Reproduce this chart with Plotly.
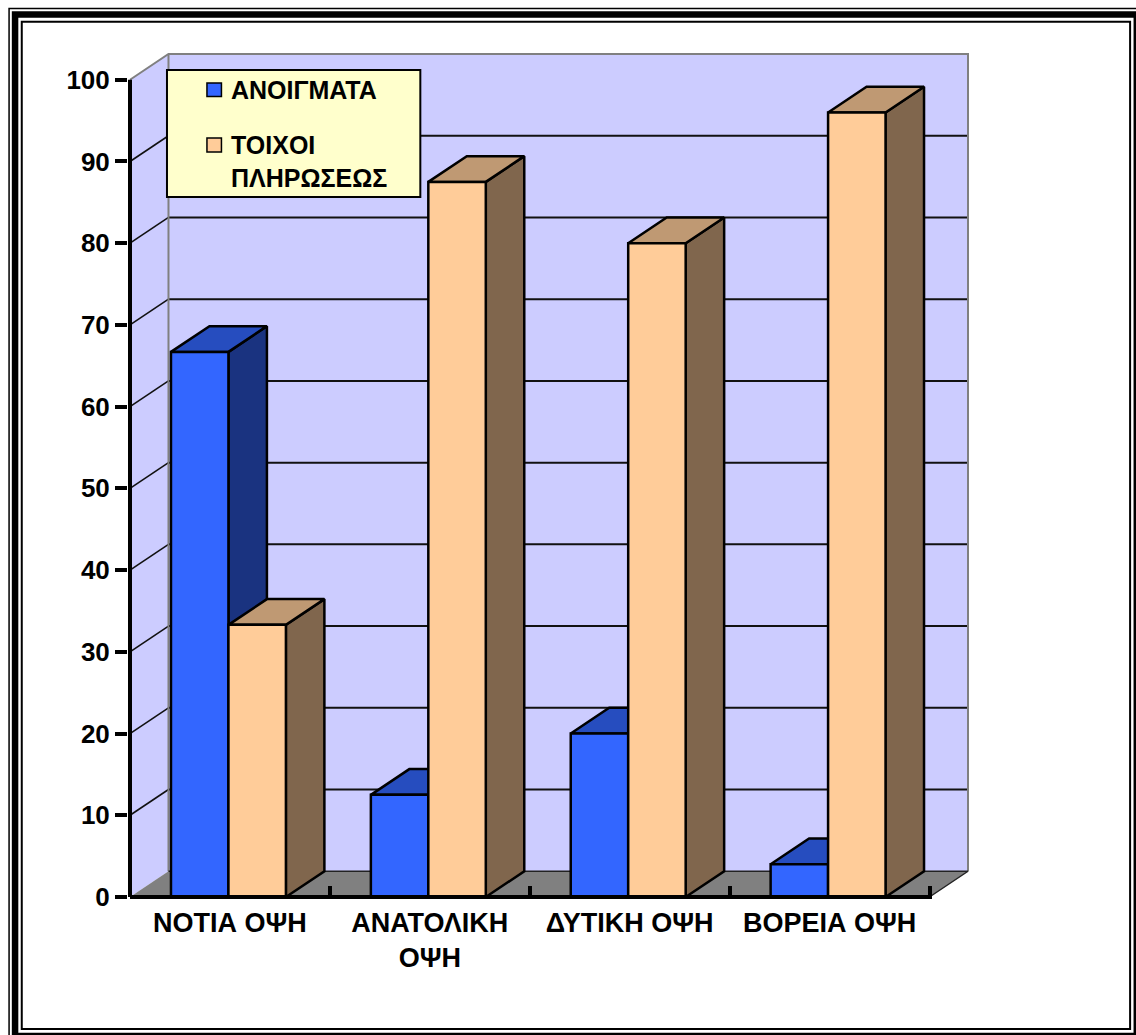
import plotly.graph_objects as go

# ---- data -------------------------------------------------------------
categories = ["ΝΟΤΙΑ ΟΨΗ", "ΑΝΑΤΟΛΙΚΗ<br>ΟΨΗ", "ΔΥΤΙΚΗ ΟΨΗ", "ΒΟΡΕΙΑ ΟΨΗ"]
series_names = ["ΑΝΟΙΓΜΑΤΑ", "ΤΟΙΧΟΙ<br>ΠΛΗΡΩΣΕΩΣ"]
openings = [66.7, 12.5, 20.0, 4.0]
infill_walls = [33.3, 87.5, 80.0, 96.0]
y_ticks = list(range(0, 101, 10))

# ---- styling ----------------------------------------------------------
W, H = 1136, 1035
FONT = "Liberation Sans, Arial, sans-serif"
series_colors = [
    # front, top, side
    ("#3366FF", "#264DBF", "#1A3380"),
    ("#FFCC99", "#BF9973", "#80664D"),
]
WALL = "#CCCCFF"
FLOOR = "#808080"
EDGE = "#808080"

BAR_W = 0.2875       # width of one bar in category units
GROUP_SHIFT = -0.0075
DX, DY = 0.1925, 3.15  # depth of the 3-D box (x units, y units)

X0, X1 = -0.5, len(categories) - 0.5
Y_MAX = 100
x_range = [X0 - 0.01, X1 + DX + 0.01]
y_range = [-0.245, Y_MAX + DY + 0.245]

M_L, M_R, M_T, M_B = 128, 165.5, 52, 136
plot_w = W - M_L - M_R
plot_h = H - M_T - M_B


def px_x(p):
    return (p - M_L) / plot_w


def px_y(p):
    return (H - M_B - p) / plot_h


fig = go.Figure()


def poly(xs, ys, fill, line_color="black", line_width=2.5):
    fig.add_trace(go.Scatter(
        x=list(xs) + [xs[0]], y=list(ys) + [ys[0]],
        mode="lines", fill="toself", fillcolor=fill,
        line=dict(color=line_color, width=line_width),
        hoverinfo="skip", showlegend=False))


def seg(xs, ys, color, width):
    fig.add_trace(go.Scatter(
        x=xs, y=ys, mode="lines", line=dict(color=color, width=width),
        hoverinfo="skip", showlegend=False, connectgaps=False))


# back wall
poly([X0 + DX, X1 + DX, X1 + DX, X0 + DX],
     [DY, DY, Y_MAX + DY, Y_MAX + DY], WALL, line_width=0)
# side wall
poly([X0, X0 + DX, X0 + DX, X0], [0, DY, Y_MAX + DY, Y_MAX], WALL, line_width=0)
# floor
poly([X0, X1, X1 + DX, X0 + DX], [0, 0, DY, DY], FLOOR, line_width=0)

# gridlines on back wall and side wall
gx, gy, sx, sy = [], [], [], []
for v in y_ticks[1:-1]:
    gx += [X0 + DX, X1 + DX, None]
    gy += [v + DY, v + DY, None]
    sx += [X0, X0 + DX, None]
    sy += [v, v + DY, None]
seg(gx, gy, "#111111", 2)
seg(sx, sy, "#111111", 1.6)

# wall outlines
seg([X0, X0 + DX, X1 + DX, X1 + DX],
    [Y_MAX, Y_MAX + DY, Y_MAX + DY, DY], EDGE, 2)
seg([X0 + DX, X0 + DX], [DY, Y_MAX + DY], EDGE, 2)
# floor edges
seg([X0 + DX, X1 + DX, X1], [DY, DY, 0], "#222222", 1.5)

# 3-D bars, drawn left to right so nearer faces overlap correctly
series_values = [openings, infill_walls]
for i in range(len(categories)):
    for s, vals in enumerate(series_values):
        v = vals[i]
        front, top, side = series_colors[s]
        x0 = i + GROUP_SHIFT + (s - 1) * BAR_W
        x1 = x0 + BAR_W
        poly([x1, x1 + DX, x1 + DX, x1], [0, DY, v + DY, v], side)
        poly([x0, x1, x1 + DX, x0 + DX], [v, v, v + DY, v + DY], top)
        poly([x0, x1, x1, x0], [0, 0, v, v], front)

# front axis lines
seg([X0, X0], [0, Y_MAX], "black", 4)
seg([X0, X1], [0, 0], "black", 4)

# ---- legend (box, swatches, labels) -------------------------------------
shapes = []
shapes.append(dict(type="rect", xref="paper", yref="paper",
                   x0=px_x(167), x1=px_x(420.5), y0=px_y(197), y1=px_y(70),
                   fillcolor="#FFFFCC", line=dict(color="black", width=2)))
legend_rows = [(83, 96.5, 90), (138, 152, 161.5)]
annotations = []
for s, name in enumerate(series_names):
    top_px, bot_px, text_c = legend_rows[s]
    shapes.append(dict(type="rect", xref="paper", yref="paper",
                       x0=px_x(207), x1=px_x(221.5),
                       y0=px_y(bot_px), y1=px_y(top_px),
                       fillcolor=series_colors[s][0],
                       line=dict(color="black", width=1.5)))
    label = "<br>".join(f"<b>{part}</b>" for part in name.split("<br>"))
    annotations.append(dict(xref="paper", yref="paper",
                            x=px_x(229), y=px_y(text_c),
                            xanchor="left", yanchor="middle", align="left",
                            text=label, showarrow=False,
                            font=dict(family=FONT, size=25, color="black")))

# ---- page frame -------------------------------------------------------
for (a, b, c, d, w) in [(9, 8.5, 1143.5, 1042, 1.5),
                        (15, 14.5, 1137.4, 1035.9, 6.5),
                        (21.7, 21.7, 1130.7, 1029, 2)]:
    shapes.append(dict(type="rect", xref="paper", yref="paper",
                       x0=px_x(a), x1=px_x(c), y0=px_y(d), y1=px_y(b),
                       line=dict(color="black", width=w),
                       fillcolor="rgba(0,0,0,0)"))

fig.update_layout(
    width=W, height=H,
    margin=dict(l=M_L, r=M_R, t=M_T, b=M_B, pad=0),
    paper_bgcolor="white", plot_bgcolor="white",
    showlegend=False,
    shapes=shapes, annotations=annotations,
    xaxis=dict(range=x_range, tickmode="array",
               tickvals=list(range(len(categories))), ticktext=categories,
               ticks="", showgrid=False, zeroline=False, showline=False,
               ticklabelstandoff=5,
               tickfont=dict(family=FONT, size=27, color="black", weight="bold"),
               minor=dict(tickmode="array",
                          tickvals=[i + 0.5 for i in range(len(categories))],
                          ticks="inside", ticklen=13, tickwidth=3.5,
                          tickcolor="black", showgrid=False),
               fixedrange=True),
    yaxis=dict(range=y_range, tickmode="array", tickvals=y_ticks,
               ticks="outside", ticklen=12, tickwidth=3.5, tickcolor="black",
               showgrid=False, zeroline=False, showline=False,
               tickfont=dict(family=FONT, size=26, color="black", weight="bold"),
               fixedrange=True),
)

fig.write_html("out.html")
